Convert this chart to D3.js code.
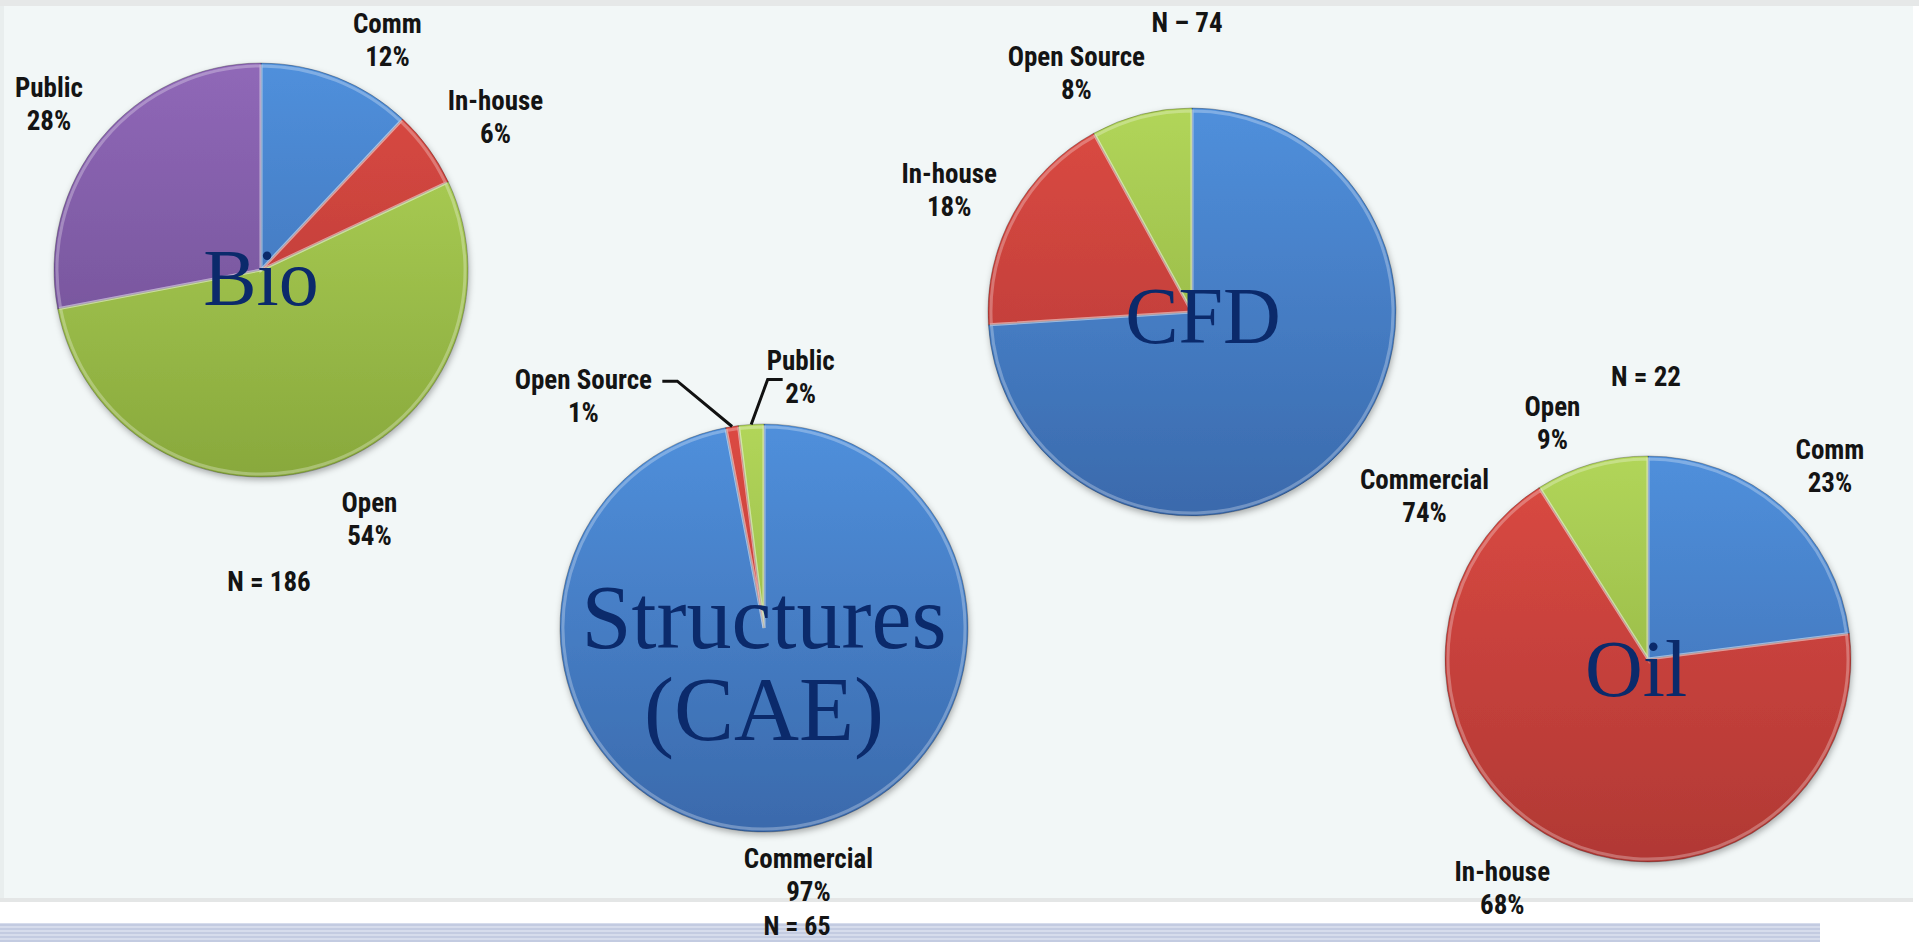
<!DOCTYPE html>
<html>
<head>
<meta charset="utf-8">
<script src="https://cdn.jsdelivr.net/npm/d3@7"></script>
<style>
  body { margin: 0; background: #fff; overflow: hidden; }
  .lbl { font-family: "Liberation Sans Narrow", "Roboto Condensed", Roboto, sans-serif; font-weight: bold; font-size: 27px; fill: #141414; }
  .title { font-family: "Liberation Serif", "Times New Roman", serif; fill: #0b2a6b; }
</style>
</head>
<body>
<div id="chart"></div>
<script>
// values
var bioLabels = ["Comm", "In-house", "Open", "Public"];
var bioValues = [12, 6, 54, 28];
var caeLabels = ["Commercial", "Open Source", "Public"];
var caeValues = [97, 1, 2];
var cfdLabels = ["Commercial", "In-house", "Open Source"];
var cfdValues = [74, 18, 8];
var oilLabels = ["Comm", "In-house", "Open"];
var oilValues = [23, 68, 9];
var pieTitles = [["Bio"], ["Structures", "(CAE)"], ["CFD"], ["Oil"]];
var sampleSizes = ["N = 186", "N = 65", "N \u2013 74", "N = 22"];

var svgWidth = 1919;
var svgHeight = 942;

// slice colours by position: blue, red, green, purple
var colorStops = [
    ["#5090dc", "#3a69ab"],
    ["#dc4a43", "#b03834"],
    ["#b2d65a", "#88a83c"],
    ["#9068b8", "#6a4c8e"]
];

// layout of each pie (centre, radius, title, label nudges)
var layout = [
    { labels: bioLabels, values: bioValues, cx: 261, cy: 270, r: 207, labelR: 270,
      titleSize: 80, titleX: 0, titleY: [35],
      nudge: [[27, 21], [16, 6], [25, -8], [-4, 6]], nPos: [8, 311], nSize: 27, leaders: [] },
    { labels: caeLabels, values: caeValues, cx: 764, cy: 628, r: 204, labelR: 260,
      titleSize: 90, titleX: 0, titleY: [20, 112],
      nudge: [[20, -12], [-140, 25], [53, 8]], nPos: [33, 297], nSize: 26, leaders: [1, 2] },
    { labels: cfdLabels, values: cfdValues, cx: 1192, cy: 312, r: 204, labelR: 260,
      titleSize: 80, titleX: 11, titleY: [31],
      nudge: [[43, 6], [-15, 3], [-51, 13]], nPos: [-5, -290], nSize: 27, leaders: [] },
    { labels: oilLabels, values: oilValues, cx: 1648, cy: 659, r: 203, labelR: 260,
      titleSize: 80, titleX: -12, titleY: [37],
      nudge: [[10, 2], [-35, -6], [-23, 14]], nPos: [-2, -283], nSize: 27, leaders: [] }
];

var svg = d3.select("#chart")
    .append("svg")
    .attr("width", svgWidth)
    .attr("height", svgHeight);

var defs = svg.append("defs");

colorStops.forEach(function(c, i) {
    var g = defs.append("linearGradient")
        .attr("id", "grad" + i)
        .attr("gradientUnits", "userSpaceOnUse")
        .attr("x1", 0).attr("y1", -210)
        .attr("x2", 0).attr("y2", 210);
    g.append("stop").attr("offset", "0%").attr("stop-color", c[0]);
    g.append("stop").attr("offset", "100%").attr("stop-color", c[1]);
});

var shadow = defs.append("filter").attr("id", "shadow")
    .attr("x", "-10%").attr("y", "-10%").attr("width", "120%").attr("height", "120%");
shadow.append("feDropShadow")
    .attr("dx", 1).attr("dy", 3).attr("stdDeviation", 3)
    .attr("flood-color", "#000").attr("flood-opacity", 0.3);

var stripes = defs.append("pattern").attr("id", "stripes")
    .attr("patternUnits", "userSpaceOnUse")
    .attr("width", 10).attr("height", 4);
stripes.append("rect").attr("width", 10).attr("height", 4).attr("fill", "#d6dcec");
stripes.append("rect").attr("width", 10).attr("height", 2).attr("fill", "#c3cbe1");

// slide panel
svg.append("rect")
    .attr("x", 0).attr("y", 0)
    .attr("width", 1919).attr("height", 6)
    .attr("fill", "#e6e8e8");
svg.append("rect")
    .attr("x", 0).attr("y", 6)
    .attr("width", 1913).attr("height", 892)
    .attr("fill", "#f2f7f7");
svg.append("rect")
    .attr("x", 0).attr("y", 6)
    .attr("width", 4).attr("height", 892)
    .attr("fill", "#e9eeee");
svg.append("rect")
    .attr("x", 0).attr("y", 898)
    .attr("width", 1913).attr("height", 4)
    .attr("fill", "#e4e6e6");

// striped band at the bottom
svg.append("rect")
    .attr("x", 0).attr("y", 923)
    .attr("width", 1820).attr("height", 19)
    .attr("fill", "url(#stripes)");

var pie = d3.pie().sort(null).value(function(d) { return d; });

layout.forEach(function(p, k) {
    var arcs = pie(p.values);
    var arc = d3.arc().innerRadius(0).outerRadius(p.r);
    var labelArc = d3.arc().innerRadius(p.labelR).outerRadius(p.labelR);
    var rimArc = d3.arc().innerRadius(p.r).outerRadius(p.r);

    var g = svg.append("g")
        .attr("transform", `translate(${p.cx}, ${p.cy})`);

    var slices = g.append("g").attr("filter", "url(#shadow)");

    slices.selectAll("path")
        .data(arcs)
        .enter()
        .append("path")
        .attr("d", arc)
        .attr("fill", function(d, i) { return "url(#grad" + i + ")"; })
        .attr("stroke", "rgba(0,0,0,0.25)")
        .attr("stroke-width", 1);

    // bevel highlight along slice edges
    g.selectAll(".bevel")
        .data(arcs)
        .enter()
        .append("path")
        .attr("class", "bevel")
        .attr("d", d3.arc().innerRadius(0).outerRadius(p.r - 3))
        .attr("fill", "none")
        .attr("stroke", "rgba(255,255,255,0.28)")
        .attr("stroke-width", 3);

    // leader lines for the tiny slices
    p.leaders.forEach(function(i) {
        var a = rimArc.centroid(arcs[i]);
        var l = labelArc.centroid(arcs[i]);
        var lx = l[0] + p.nudge[i][0];
        var ly = l[1] + p.nudge[i][1];
        var pts;
        if (lx < a[0]) {
            pts = [a, [lx + 94, ly - 15], [lx + 79, ly - 15]];
        } else {
            pts = [a, [lx - 33, ly + 3], [lx - 18, ly + 3]];
        }
        g.append("path")
            .attr("d", d3.line()(pts))
            .attr("fill", "none")
            .attr("stroke", "#111")
            .attr("stroke-width", 3);
    });

    // slice labels
    arcs.forEach(function(d, i) {
        var c = labelArc.centroid(d);
        var x = c[0] + p.nudge[i][0];
        var y = c[1] + p.nudge[i][1];
        var t = g.append("text")
            .attr("class", "lbl")
            .attr("text-anchor", "middle");
        t.append("tspan")
            .attr("x", x).attr("y", y - 7)
            .text(p.labels[i]);
        t.append("tspan")
            .attr("x", x).attr("y", y + 26)
            .text(p.values[i] + "%");
    });

    g.append("text")
        .attr("class", "lbl")
        .attr("text-anchor", "middle")
        .attr("x", p.nPos[0])
        .attr("y", p.nPos[1] + 10)
        .style("font-size", p.nSize + "px")
        .text(sampleSizes[k]);

    pieTitles[k].forEach(function(line, j) {
        g.append("text")
            .attr("class", "title")
            .attr("text-anchor", "middle")
            .attr("x", p.titleX)
            .attr("y", p.titleY[j])
            .style("font-size", p.titleSize + "px")
            .text(line);
    });
});
</script>
</body>
</html>
